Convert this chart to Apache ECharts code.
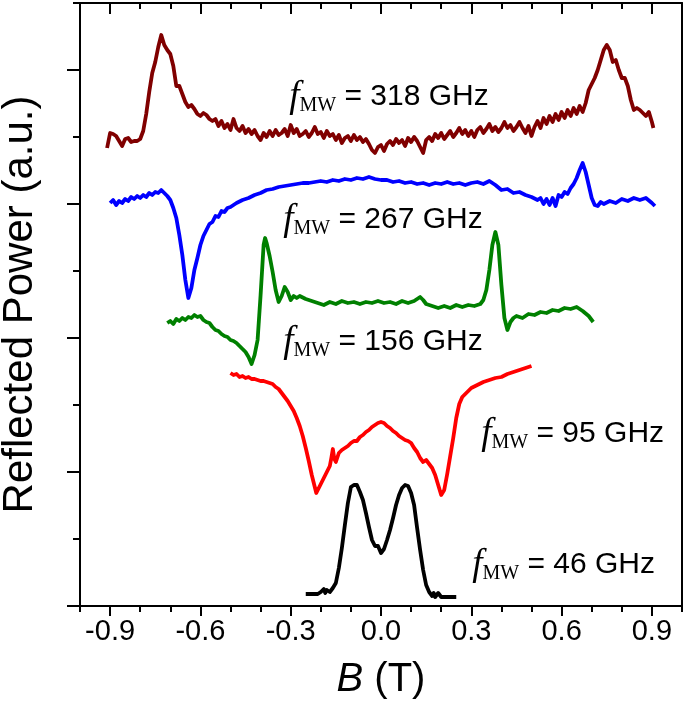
<!DOCTYPE html>
<html><head><meta charset="utf-8">
<script src="https://cdn.jsdelivr.net/npm/echarts@6/dist/echarts.min.js"></script>
<style>html,body{margin:0;padding:0;background:#fff}#c{width:685px;height:708px}</style>
</head><body><div id="c"></div>
<script>
// Tick positions (B in tesla; reflected power in arbitrary units)
const majorX = [-0.9,-0.6,-0.3,0,0.3,0.6,0.9];
const minorX = [-1,-0.8,-0.7,-0.5,-0.4,-0.2,-0.1,0.1,0.2,0.4,0.5,0.7,0.8,1];
const majorY = [0,134,268,402,536];
const minorY = [67,201,335,469,603];

// f_MW = 318 GHz
const trace318 = [[-0.91,458],[-0.90,473],[-0.89,472],[-0.88,470],[-0.87,465],[-0.86,460],[-0.85,467],[-0.84,468],[-0.83,464],[-0.82,465],[-0.81,465],[-0.80,467],[-0.79,475],[-0.78,492],[-0.77,514],[-0.76,533],[-0.75,544],[-0.74,559],[-0.73,571],[-0.72,561],[-0.71,556],[-0.70,552],[-0.69,540],[-0.68,520],[-0.67,520],[-0.66,512],[-0.65,504],[-0.64,499],[-0.63,501],[-0.62,497],[-0.61,492],[-0.60,490],[-0.59,493],[-0.58,491],[-0.57,487],[-0.56,485],[-0.55,487],[-0.54,480],[-0.53,485],[-0.52,478],[-0.51,482],[-0.50,476],[-0.49,487],[-0.48,478],[-0.47,475],[-0.46,480],[-0.45,473],[-0.44,477],[-0.43,472],[-0.42,476],[-0.41,470],[-0.40,466],[-0.39,473],[-0.38,469],[-0.37,475],[-0.36,470],[-0.35,476],[-0.34,471],[-0.33,473],[-0.32,477],[-0.31,470],[-0.30,481],[-0.29,473],[-0.28,477],[-0.27,470],[-0.26,472],[-0.25,475],[-0.24,469],[-0.23,473],[-0.22,479],[-0.21,472],[-0.20,474],[-0.19,468],[-0.18,475],[-0.17,470],[-0.16,472],[-0.15,466],[-0.14,471],[-0.13,463],[-0.12,468],[-0.11,470],[-0.10,465],[-0.09,471],[-0.08,466],[-0.07,469],[-0.06,464],[-0.05,467],[-0.04,462],[-0.03,456],[-0.02,453],[-0.01,459],[0.00,461],[0.01,455],[0.02,462],[0.03,465],[0.04,461],[0.05,467],[0.06,463],[0.07,466],[0.08,460],[0.09,468],[0.10,464],[0.11,469],[0.12,465],[0.13,459],[0.14,453],[0.15,466],[0.16,469],[0.17,465],[0.18,472],[0.19,468],[0.20,473],[0.21,467],[0.22,471],[0.23,475],[0.24,469],[0.25,473],[0.26,478],[0.27,472],[0.28,476],[0.29,470],[0.30,475],[0.31,469],[0.32,476],[0.33,479],[0.34,473],[0.35,477],[0.36,482],[0.37,475],[0.38,479],[0.39,474],[0.40,478],[0.41,484],[0.42,478],[0.43,481],[0.44,475],[0.45,479],[0.46,484],[0.47,478],[0.48,473],[0.49,480],[0.50,470],[0.51,479],[0.52,485],[0.53,478],[0.54,488],[0.55,482],[0.56,490],[0.57,484],[0.58,492],[0.59,486],[0.60,494],[0.61,488],[0.62,496],[0.63,490],[0.64,498],[0.65,492],[0.66,500],[0.67,494],[0.68,503],[0.69,516],[0.70,522],[0.71,528],[0.72,536],[0.73,546],[0.74,556],[0.75,561],[0.76,556],[0.77,544],[0.78,546],[0.79,536],[0.80,528],[0.81,528],[0.82,520],[0.83,506],[0.84,496],[0.85,498],[0.86,496],[0.87,493],[0.88,490],[0.89,494],[0.90,484],[0.905,478]];

// f_MW = 267 GHz
const trace267 = [[-0.90,403],[-0.89,406],[-0.88,401],[-0.87,405],[-0.86,403],[-0.85,407],[-0.84,405],[-0.83,409],[-0.82,407],[-0.81,410],[-0.80,408],[-0.79,411],[-0.78,409],[-0.77,413],[-0.76,411],[-0.75,414],[-0.74,413],[-0.73,416],[-0.72,413],[-0.71,410],[-0.70,406],[-0.69,398],[-0.68,388],[-0.67,371],[-0.66,351],[-0.65,326],[-0.64,308],[-0.63,318],[-0.62,336],[-0.61,348],[-0.60,361],[-0.59,370],[-0.58,376],[-0.57,382],[-0.56,384],[-0.55,390],[-0.54,389],[-0.53,395],[-0.52,394],[-0.51,398],[-0.50,399],[-0.48,403],[-0.46,406],[-0.44,408],[-0.42,411],[-0.40,413],[-0.38,416],[-0.36,417],[-0.34,419],[-0.32,420],[-0.30,421],[-0.28,422],[-0.26,423],[-0.24,423],[-0.22,424],[-0.20,425],[-0.18,424],[-0.16,426],[-0.14,425],[-0.12,427],[-0.10,426],[-0.08,428],[-0.06,427],[-0.04,429],[-0.02,427],[0.00,426],[0.02,426],[0.04,424],[0.06,425],[0.08,423],[0.10,424],[0.12,422],[0.14,423],[0.16,421],[0.18,423],[0.20,422],[0.22,424],[0.24,422],[0.26,423],[0.28,421],[0.30,423],[0.32,424],[0.34,422],[0.36,425],[0.38,421],[0.40,416],[0.42,417],[0.44,413],[0.46,414],[0.48,411],[0.50,409],[0.52,406],[0.53,408],[0.54,402],[0.55,407],[0.56,401],[0.57,408],[0.58,400],[0.59,411],[0.60,409],[0.61,414],[0.62,412],[0.63,418],[0.64,422],[0.65,428],[0.66,436],[0.67,443],[0.68,434],[0.69,421],[0.70,408],[0.71,401],[0.72,400],[0.73,404],[0.74,402],[0.76,405],[0.78,403],[0.80,407],[0.82,405],[0.84,408],[0.86,406],[0.88,408],[0.90,403],[0.91,400]];

// f_MW = 156 GHz
const trace156 = [[-0.71,283],[-0.70,285],[-0.69,282],[-0.68,287],[-0.67,285],[-0.66,288],[-0.65,286],[-0.64,289],[-0.63,288],[-0.62,291],[-0.61,289],[-0.60,290],[-0.59,286],[-0.58,284],[-0.57,283],[-0.56,279],[-0.55,276],[-0.54,275],[-0.53,272],[-0.52,270],[-0.51,269],[-0.50,266],[-0.49,265],[-0.48,263],[-0.47,260],[-0.46,257],[-0.45,254],[-0.44,249],[-0.43,242],[-0.42,251],[-0.41,266],[-0.40,311],[-0.39,361],[-0.385,368],[-0.38,363],[-0.37,350],[-0.36,334],[-0.35,316],[-0.34,304],[-0.33,310],[-0.32,319],[-0.31,314],[-0.30,306],[-0.29,310],[-0.28,308],[-0.27,310],[-0.25,307],[-0.23,305],[-0.21,303],[-0.19,301],[-0.17,304],[-0.15,302],[-0.13,305],[-0.11,303],[-0.09,304],[-0.07,302],[-0.05,304],[-0.03,303],[-0.01,305],[0.01,303],[0.03,304],[0.05,302],[0.07,305],[0.09,303],[0.11,305],[0.13,309],[0.14,306],[0.15,302],[0.17,300],[0.19,298],[0.21,300],[0.23,298],[0.25,301],[0.27,299],[0.29,301],[0.31,300],[0.33,302],[0.34,306],[0.35,316],[0.36,336],[0.37,361],[0.38,374],[0.385,372],[0.39,361],[0.40,321],[0.41,288],[0.42,276],[0.43,284],[0.44,288],[0.45,290],[0.47,288],[0.49,292],[0.51,291],[0.53,294],[0.55,293],[0.57,296],[0.59,295],[0.61,298],[0.63,297],[0.65,299],[0.67,295],[0.69,290],[0.70,286],[0.705,284]];

// f_MW = 95 GHz
const trace95 = [[-0.50,233],[-0.49,231],[-0.48,232],[-0.47,229],[-0.46,230],[-0.45,228],[-0.44,229],[-0.43,227],[-0.42,227],[-0.41,226],[-0.40,225],[-0.39,225],[-0.38,224],[-0.37,223],[-0.36,222],[-0.35,219],[-0.34,217],[-0.33,213],[-0.32,209],[-0.31,205],[-0.30,200],[-0.29,195],[-0.28,188],[-0.27,180],[-0.26,170],[-0.25,158],[-0.24,145],[-0.23,131],[-0.22,119],[-0.215,113],[-0.21,116],[-0.20,122],[-0.19,128],[-0.18,134],[-0.17,140],[-0.165,148],[-0.16,157],[-0.155,147],[-0.15,144],[-0.14,153],[-0.13,156],[-0.12,158],[-0.11,160],[-0.10,163],[-0.09,165],[-0.08,165],[-0.07,169],[-0.06,171],[-0.05,174],[-0.04,176],[-0.03,179],[-0.02,181],[-0.01,183],[0.00,184],[0.01,183],[0.02,180],[0.03,178],[0.04,175],[0.05,173],[0.06,170],[0.07,168],[0.08,166],[0.09,165],[0.10,163],[0.11,158],[0.12,154],[0.13,148],[0.14,144],[0.15,146],[0.16,142],[0.17,138],[0.18,131],[0.19,121],[0.20,111],[0.205,109],[0.21,116],[0.22,132],[0.23,150],[0.24,168],[0.25,188],[0.26,202],[0.27,209],[0.28,212],[0.29,215],[0.30,218],[0.32,221],[0.34,224],[0.36,226],[0.38,228],[0.40,229],[0.42,232],[0.44,234],[0.46,236],[0.48,238],[0.50,240]];

// f_MW = 46 GHz
const trace46 = [[-0.25,12],[-0.23,12],[-0.21,12],[-0.20,14],[-0.19,17],[-0.185,13],[-0.18,16],[-0.17,14],[-0.16,18],[-0.15,23],[-0.14,38],[-0.13,58],[-0.12,81],[-0.11,103],[-0.10,119],[-0.09,121],[-0.08,121],[-0.07,114],[-0.06,106],[-0.05,93],[-0.04,79],[-0.03,66],[-0.02,60],[-0.01,60],[0.00,53],[0.01,57],[0.02,66],[0.03,76],[0.04,88],[0.05,101],[0.06,111],[0.07,118],[0.08,121],[0.09,120],[0.10,113],[0.11,101],[0.12,78],[0.13,56],[0.14,36],[0.15,21],[0.16,14],[0.17,10],[0.175,13],[0.18,9],[0.19,13],[0.20,9],[0.22,9],[0.25,9]];

const seriesNames = ['318','267','156','95','46'];
const seriesColors = ['#800000','#0000ff','#008000','#ff0000','#000000'];
// label anchor points [B, a.u., frequency text]
const labelAnchors = [[-0.305,509,'318'],[-0.325,386,'267'],[-0.325,264,'156'],[0.333,172,'95'],[0.303,41,'46']];

const traces = [trace318, trace267, trace156, trace95, trace46];
const chart = echarts.init(document.getElementById('c'), null, {renderer:'canvas'});
const sans = 'Liberation Sans, Arial, sans-serif';
const serif = 'Liberation Serif, Times New Roman, serif';
const lineCommon = {show:true, onZero:false, lineStyle:{color:'#000', width:2}};
const noLine = {show:false, onZero:false};
const option = {
  backgroundColor:'#fff',
  animation:false,
  grid:{left:80, right:3, top:3, bottom:102, containLabel:false, outerBoundsMode:'none'},
  xAxis:[
    {type:'value', min:-1, max:1, position:'bottom', axisLine:lineCommon,
     axisTick:{show:true, inside:false, length:10, lineStyle:{width:2,color:'#000'}, customValues:majorX},
     axisLabel:{show:true, customValues:majorX, margin:11, fontSize:29, color:'#000', fontFamily:sans,
       formatter:v=>v.toFixed(1)},
     splitLine:{show:false},
     name:'{b|B}{t| (T)}', nameLocation:'middle', nameGap:54,
     nameTextStyle:{rich:{b:{fontSize:40, fontStyle:'italic', fontFamily:sans, color:'#000'}, t:{fontSize:40, fontFamily:sans, color:'#000'}}}},
    {type:'value', min:-1, max:1, position:'bottom', axisLine:noLine,
     axisTick:{show:true, length:6, lineStyle:{width:2,color:'#000'}, customValues:minorX},
     axisLabel:{show:false}, splitLine:{show:false}},
    {type:'value', min:-1, max:1, position:'top', axisLine:lineCommon,
     axisTick:{show:true, inside:true, length:11, lineStyle:{width:2,color:'#000'}, customValues:majorX},
     axisLabel:{show:false}, splitLine:{show:false}},
    {type:'value', min:-1, max:1, position:'top', axisLine:noLine,
     axisTick:{show:true, inside:true, length:6, lineStyle:{width:2,color:'#000'}, customValues:minorX},
     axisLabel:{show:false}, splitLine:{show:false}}
  ],
  yAxis:[
    {type:'value', min:0, max:603, position:'left', axisLine:lineCommon,
     axisTick:{show:true, length:13, lineStyle:{width:2,color:'#000'}, customValues:majorY},
     axisLabel:{show:false}, splitLine:{show:false},
     name:'Reflected Power (a.u.)', nameLocation:'middle', nameGap:39, nameRotate:90,
     nameTextStyle:{fontSize:42, fontFamily:sans, color:'#000'}},
    {type:'value', min:0, max:603, position:'left', axisLine:noLine,
     axisTick:{show:true, length:7, lineStyle:{width:2,color:'#000'}, customValues:minorY},
     axisLabel:{show:false}, splitLine:{show:false}},
    {type:'value', min:0, max:603, position:'right', axisLine:lineCommon,
     axisTick:{show:false}, axisLabel:{show:false}, splitLine:{show:false}}
  ],
  series: traces.map((d,i)=>({
    type:'line', name:seriesNames[i], data:d, showSymbol:false, symbol:'none',
    lineStyle:{color:seriesColors[i], width:3.8, join:'round'}, xAxisIndex:0, yAxisIndex:0, z:3
  })).concat([{
    type:'scatter', symbolSize:0, xAxisIndex:0, yAxisIndex:0, silent:true, z:5,
    itemStyle:{opacity:1},
    data: labelAnchors.map(a=>({value:[a[0],a[1]], freq:a[2]})),
    label:{show:true, position:'right', distance:0, color:'#000', textBorderWidth:0,
      formatter:p=>'{f|f}{s|MW}{t| = '+p.data.freq+' GHz}',
      rich:{
        f:{fontFamily:serif, fontStyle:'italic', fontSize:37, color:'#000'},
        s:{fontFamily:serif, fontSize:20, color:'#000', padding:[18,0,0,0]},
        t:{fontFamily:sans, fontSize:30, color:'#000'}
      }}
  }])
};
chart.setOption(option);
</script></body></html>
